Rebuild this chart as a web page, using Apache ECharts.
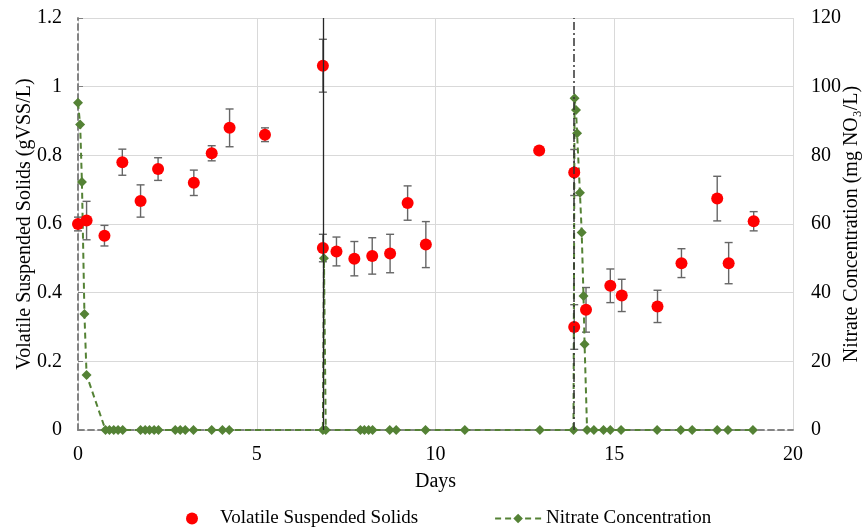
<!DOCTYPE html>
<html>
<head>
<meta charset="utf-8">
<script src="https://cdn.jsdelivr.net/npm/echarts@6/dist/echarts.min.js"></script>
<style>
html,body{margin:0;padding:0;background:#fff;}
#chart{width:866px;height:527px;}
</style>
</head>
<body>
<div id="chart"></div>
<script>
// ---- data ----
const vssDays = [0, 0.24, 0.74, 1.24, 1.75, 2.24, 3.24, 3.74, 4.24, 5.23, 6.85, 6.85, 7.23, 7.73, 8.23, 8.73, 9.22, 9.73, 12.9, 13.88, 13.88, 14.21, 14.89, 15.21, 16.21, 16.88, 17.88, 18.2, 18.9];
const vss = [0.60, 0.61, 0.566, 0.78, 0.667, 0.76, 0.72, 0.806, 0.88, 0.86, 1.061, 0.53, 0.52, 0.499, 0.507, 0.514, 0.661, 0.54, 0.814, 0.75, 0.30, 0.35, 0.42, 0.392, 0.36, 0.486, 0.674, 0.486, 0.608];
const vssErr = [0.02, 0.056, 0.03, 0.038, 0.047, 0.033, 0.037, 0.022, 0.055, 0.02, 0.077, 0.04, 0.042, 0.05, 0.053, 0.056, 0.05, 0.067, 0, 0.067, 0.065, 0.065, 0.049, 0.047, 0.047, 0.042, 0.065, 0.06, 0.028];

const nitDays = [0, 0.06, 0.11, 0.18, 0.24, 0.77, 0.88, 1.0, 1.12, 1.25, 1.75, 1.88, 2.0, 2.13, 2.25, 2.72, 2.86, 3.0, 3.23, 3.74, 4.04, 4.23, 6.85, 6.88, 6.93, 7.9, 8.01, 8.13, 8.24, 8.72, 8.9, 9.72, 10.82, 12.92, 13.86, 13.89, 13.93, 13.96, 14.04, 14.09, 14.14, 14.17, 14.24, 14.43, 14.7, 14.89, 15.19, 16.2, 16.86, 17.18, 17.88, 18.18, 18.88];
const nitrate = [95.3, 89, 72.2, 33.8, 16, 0, 0, 0, 0, 0, 0, 0, 0, 0, 0, 0, 0, 0, 0, 0, 0, 0, 0, 50, 0, 0, 0, 0, 0, 0, 0, 0, 0, 0, 0, 96.6, 93.2, 86.4, 69.1, 57.5, 39, 25, 0, 0, 0, 0, 0, 0, 0, 0, 0, 0, 0];

const phaseDays = [6.85, 13.88];

const xTicks = {min: 0, max: 20, interval: 5};
const yLeftTicks = {min: 0, max: 1.2, interval: 0.2};
const yRightTicks = {min: 0, max: 120, interval: 20};

// ---- chart ----
const FONT = '"Liberation Serif", "DejaVu Serif", serif';
const chart = echarts.init(document.getElementById('chart'), null, {renderer: 'canvas'});

const vssData = vssDays.map((d, i) => [d, vss[i]]);
const errData = vssDays.map((d, i) => [d, vss[i], vssErr[i]]).filter(r => r[2] > 0);
const nitData = nitDays.map((d, i) => [d, nitrate[i]]);

const boxLine = {show: true, lineStyle: {color: '#7f7f7f', width: 1.6, type: [6, 4]}};

const option = {
  animation: false,
  textStyle: {fontFamily: FONT},
  grid: {left: 78, right: 73, top: 18, bottom: 97, outerBoundsMode: 'none', containLabel: false},
  legend: {
    left: 181, top: 504,
    itemGap: 76, itemWidth: 46, itemHeight: 12,
    textStyle: {fontFamily: FONT, fontSize: 19, color: '#000'},
    data: [
      {name: 'Volatile Suspended Solids', icon: 'circle', itemStyle: {color: '#ff0000'}},
      {name: 'Nitrate Concentration'}
    ]
  },
  xAxis: [{
    type: 'value', min: xTicks.min, max: xTicks.max, interval: xTicks.interval,
    name: 'Days', nameLocation: 'middle', nameGap: 42, nameMoveOverlap: false,
    nameTextStyle: {fontFamily: FONT, fontSize: 20, color: '#000'},
    axisLine: boxLine, axisTick: {show: false},
    axisLabel: {fontFamily: FONT, fontSize: 20, color: '#000', margin: 15},
    splitLine: {show: true, lineStyle: {color: '#d9d9d9', width: 1}}
  }, {
    type: 'value', position: 'top', min: xTicks.min, max: xTicks.max, interval: xTicks.interval,
    axisLine: boxLine, axisTick: {show: false}, axisLabel: {show: false}, splitLine: {show: false}
  }],
  yAxis: [{
    type: 'value', min: yLeftTicks.min, max: yLeftTicks.max, interval: yLeftTicks.interval,
    name: 'Volatile Suspended Solids (gVSS/L)', nameLocation: 'middle', nameGap: 43, nameRotate: 90,
    nameMoveOverlap: false,
    nameTextStyle: {fontFamily: FONT, fontSize: 20, color: '#000'},
    axisLine: boxLine, axisTick: {show: false},
    axisLabel: {fontFamily: FONT, fontSize: 20, color: '#000', margin: 16},
    splitLine: {show: true, lineStyle: {color: '#d9d9d9', width: 1}}
  }, {
    type: 'value', position: 'right', min: yRightTicks.min, max: yRightTicks.max, interval: yRightTicks.interval,
    name: 'Nitrate Concentration (mg NO\u2083/L)', nameLocation: 'middle', nameGap: 49, nameRotate: 90,
    nameMoveOverlap: false,
    nameTextStyle: {fontFamily: FONT, fontSize: 20, color: '#000'},
    axisLine: boxLine,
    axisTick: {show: true, length: 5, lineStyle: {color: '#7f7f7f'}},
    axisLabel: {fontFamily: FONT, fontSize: 20, color: '#000', margin: 18},
    splitLine: {show: false}
  }],
  series: [
    {
      name: 'phases', type: 'line', data: [], z: 1, silent: true,
      markLine: {
        silent: true, symbol: ['none', 'none'], label: {show: false},
        data: [
          {xAxis: phaseDays[0], lineStyle: {color: '#262626', width: 1.3, type: 'solid'}},
          {xAxis: phaseDays[1], lineStyle: {color: '#333333', width: 1.5, type: [8, 3, 2, 3]}}
        ]
      }
    },
    {
      name: 'errors', type: 'custom', z: 2, silent: true,
      encode: {x: 0, y: 1},
      data: errData,
      renderItem: function (params, api) {
        const x = api.value(0), y = api.value(1), e = api.value(2);
        const top = api.coord([x, y + e]);
        const bot = api.coord([x, y - e]);
        const c = 4;
        const st = {stroke: '#666666', lineWidth: 1.4};
        return {
          type: 'group',
          children: [
            {type: 'line', shape: {x1: top[0], y1: top[1], x2: bot[0], y2: bot[1]}, style: st},
            {type: 'line', shape: {x1: top[0] - c, y1: top[1], x2: top[0] + c, y2: top[1]}, style: st},
            {type: 'line', shape: {x1: bot[0] - c, y1: bot[1], x2: bot[0] + c, y2: bot[1]}, style: st}
          ]
        };
      }
    },
    {
      name: 'Nitrate Concentration', type: 'line', yAxisIndex: 1, z: 3,
      data: nitData,
      symbol: 'diamond', symbolSize: 10, showSymbol: true,
      itemStyle: {color: '#548235'},
      lineStyle: {color: '#548235', width: 2, type: [6, 4]}
    },
    {
      name: 'Volatile Suspended Solids', type: 'scatter', z: 4,
      data: vssData,
      symbol: 'circle', symbolSize: 12,
      itemStyle: {color: '#ff0000', opacity: 1}
    }
  ]
};
chart.setOption(option);
</script>
</body>
</html>
